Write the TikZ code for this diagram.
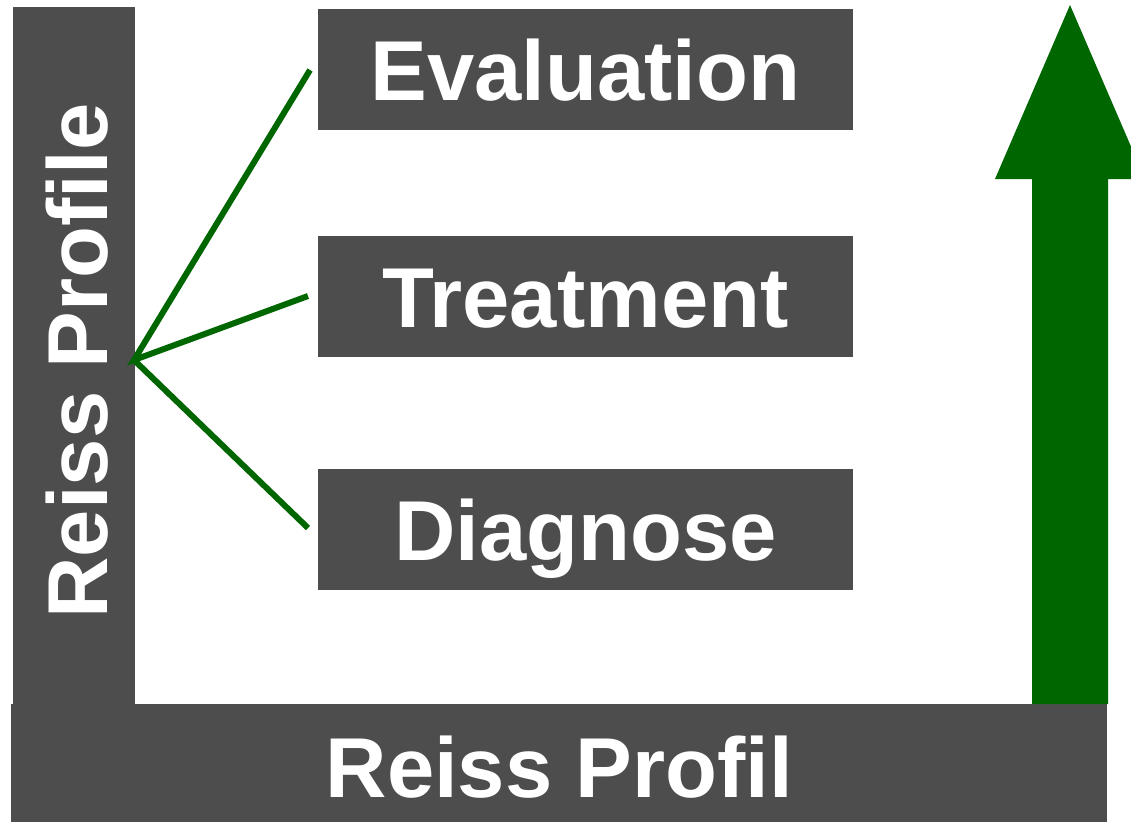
\documentclass[tikz,border=0pt]{standalone}
\usepackage{fontspec}
\setmainfont{Liberation Sans}
\definecolor{bargray}{HTML}{4D4D4D}
\definecolor{darkgreen}{HTML}{006600}
\begin{document}
\begin{tikzpicture}[x=1pt,y=-1pt,
  bar/.style={fill=bargray,draw=none,text=white,font=\fontsize{85}{90}\selectfont\bfseries,
    inner sep=0pt,text height=62pt,text depth=0pt},
  box/.style={bar,minimum width=535pt,minimum height=121pt},
  link/.style={draw=darkgreen,line width=6pt}]
\clip (0,0) rectangle (1131,823);
\fill[white] (0,0) rectangle (1131,823);
% vertical bar
\node[bar,rotate=90,minimum width=697pt,minimum height=122pt] (vbar) at (74,355.5) {};
\node[text=white,font=\fontsize{85}{90}\selectfont\bfseries,rotate=90,anchor=base,inner sep=0pt] (vtext) at (107,361) {Reiss Profile};
% horizontal bar
\node[bar,minimum width=1096pt,minimum height=118pt] (hbar) at (559,763) {};
\node[text=white,font=\fontsize{85}{90}\selectfont\bfseries,anchor=base,inner sep=0pt] (htext) at (559.5,797) {Reiss Profil};
% boxes
\node[box] (eval) at (585.5,69.5) {Evaluation};
\node[box] (treat) at (585.5,296) {Treatment};
\node[box] (diag) at (585.5,529) {Diagnose};
% green links
\coordinate (hub) at (134,360);
\coordinate (e1) at (310,70);
\coordinate (t1) at (308,296);
\coordinate (d1) at (308,528);
\draw[link] (e1) -- (hub) -- (t1);
\draw[link] (hub) -- (d1);
% big arrow
\fill[darkgreen] (1032,704) -- (1032,179) -- (995,179) -- (1070,5) -- (1145,179) -- (1108,179) -- (1108,704) -- cycle;
\end{tikzpicture}
\end{document}
